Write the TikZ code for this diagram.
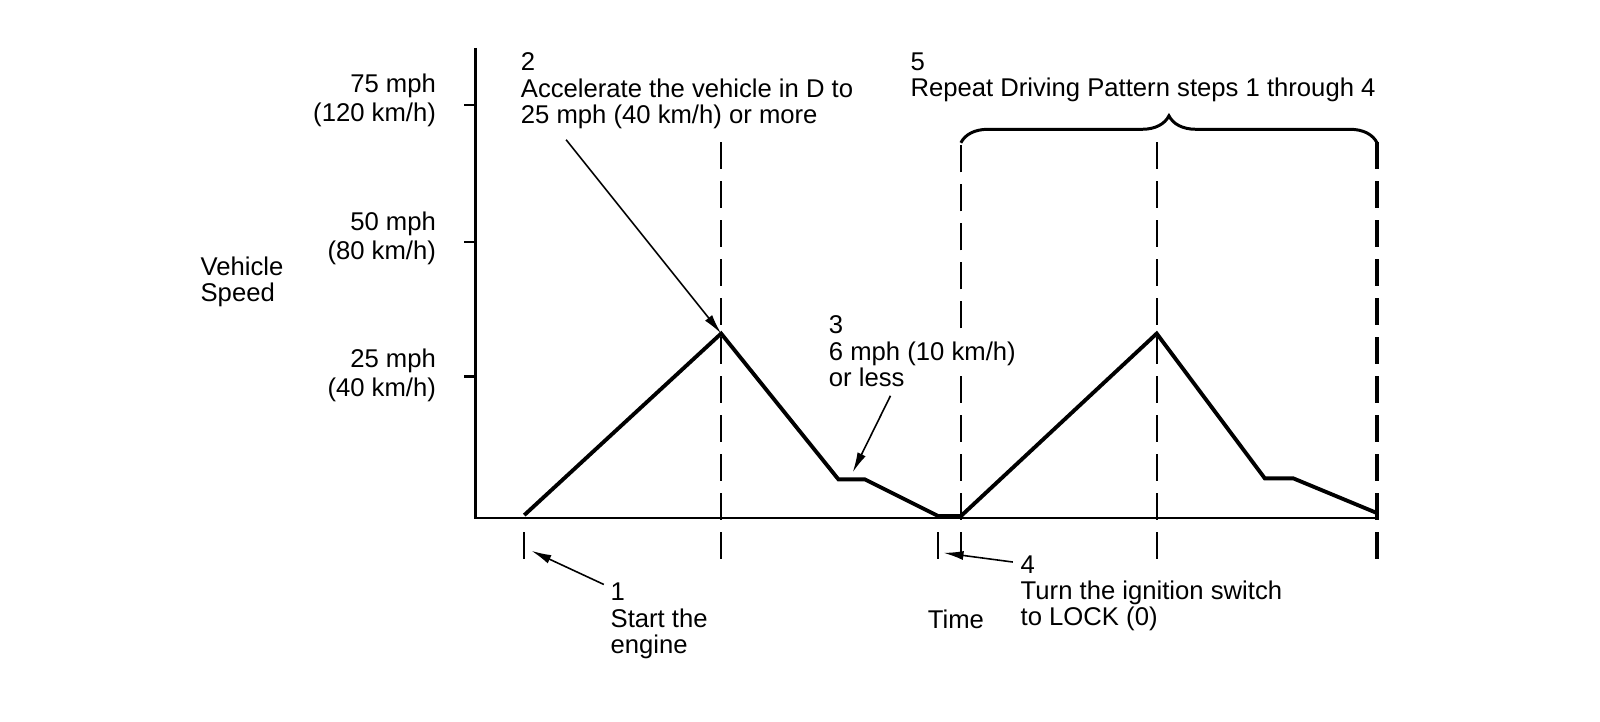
\documentclass[tikz,border=0pt]{standalone}
\usepackage{fontspec}
\setmainfont{Liberation Sans}
\usetikzlibrary{
    decorations.pathreplacing,
    arrows.meta
}

\begin{document}
\begin{tikzpicture}[
    x=1.02cm, y=1.02cm,
    every node/.style={inner sep=0pt, align=left, font=\fontsize{7.3}{7.5}\selectfont},
    speedlab/.style={align=right, anchor=east, font=\fontsize{7.3}{8.2}\selectfont},
    note/.style={anchor=north west},
    axis/.style={line width=0.7pt},
    curve/.style={line width=1.1pt, line join=miter},
    guide/.style={line width=0.55pt, dash pattern=on 0.27cm off 0.12cm},
    pointer/.style={line width=0.45pt, ->},
    >={Latex[length=2mm,width=0.9mm]}
]
                        \useasboundingbox (0, 0) rectangle (15.686, -7.078);
                        % labels
                        \node[note] (vs) at (1.96, -2.51) {Vehicle\\Speed};
                        \node[speedlab] (t75) at (4.28, -0.98) {75 mph\\(120 km/h)};
                        \node[speedlab] (t50) at (4.28, -2.34) {50 mph\\(80 km/h)};
                        \node[speedlab] (t25) at (4.28, -3.68) {25 mph\\(40 km/h)};
                        \node[note] (n2) at (5.10, -0.51) {2\\Accelerate the vehicle in D to\\25 mph (40 km/h) or more};
                        \node[note] (n3) at (8.12, -3.09) {3\\6 mph (10 km/h)\\or less};
                        \node[note] (n5) at (8.92, -0.51) {5\\Repeat Driving Pattern steps 1 through 4};
                        \node[note] (n1) at (5.98, -5.71) {1\\Start the\\engine};
                        \node[note] (tm) at (9.09, -5.97) {Time};
                        \node[note] (n4) at (10.00, -5.44) {4\\Turn the ignition switch\\to LOCK (0)};
                        % speed curve
                        \coordinate (c0) at (5.14, -5.05);
                        \coordinate (pk1) at (7.07, -3.27);
                        \coordinate (s1) at (8.22, -4.70);
                        \coordinate (s2) at (8.48, -4.70);
                        \coordinate (z1) at (9.20, -5.06);
                        \coordinate (z2) at (9.42, -5.06);
                        \coordinate (pk2) at (11.34, -3.27);
                        \coordinate (s3) at (12.40, -4.69);
                        \coordinate (s4) at (12.68, -4.69);
                        \coordinate (z3) at (13.50, -5.03);
                        % arrow tails and tips
                        \coordinate (a2) at (5.55, -1.37);
                        \coordinate (a3) at (8.73, -3.88);
                        \coordinate (t3) at (8.36, -4.63);
                        \coordinate (a1) at (5.92, -5.73);
                        \coordinate (t1) at (5.21, -5.40);
                        \coordinate (a4) at (9.93, -5.51);
                        \coordinate (t4) at (9.25, -5.42);
                        \draw[axis]
                        (4.66, -0.47) -- (4.66, -5.08) -- (13.52, -5.08);
                        \foreach \y in {-1.03, -2.37, -3.69}
                            \draw[axis] (4.55, \y) -- (4.66, \y);
                        % time marks, drawn from the bottom up
                        \foreach \x in {7.07, 11.34}
                            \draw[guide] (\x, -5.48) -- (\x, -1.37);
                        \draw[guide] (9.42, -5.48) -- (9.42, -3.67);
                        \draw[guide] (9.42, -3.22) -- (9.42, -1.37);
                        \draw[guide, line width=0.9pt] (13.50, -5.48) -- (13.50, -1.37);
                        \foreach \x in {5.14, 9.20}
                            \draw[guide] (\x, -5.48) -- (\x, -5.21);
                        \draw[curve]
                        (c0) -- (pk1) -- (s1) -- (s2) -- (z1) -- (z2) -- (pk2) -- (s3) -- (s4) -- (z3);
                        \draw[line width=0.85pt, decorate, decoration={brace, amplitude=0.27cm}]
                        (9.42, -1.40) -- (13.50, -1.40);
                        \draw[pointer] (a2) -- (pk1);
                        \draw[pointer] (a3) -- (t3);
                        \draw[pointer] (a1) -- (t1);
                        \draw[pointer] (a4) -- (t4);
                    \end{tikzpicture}
\end{document}
